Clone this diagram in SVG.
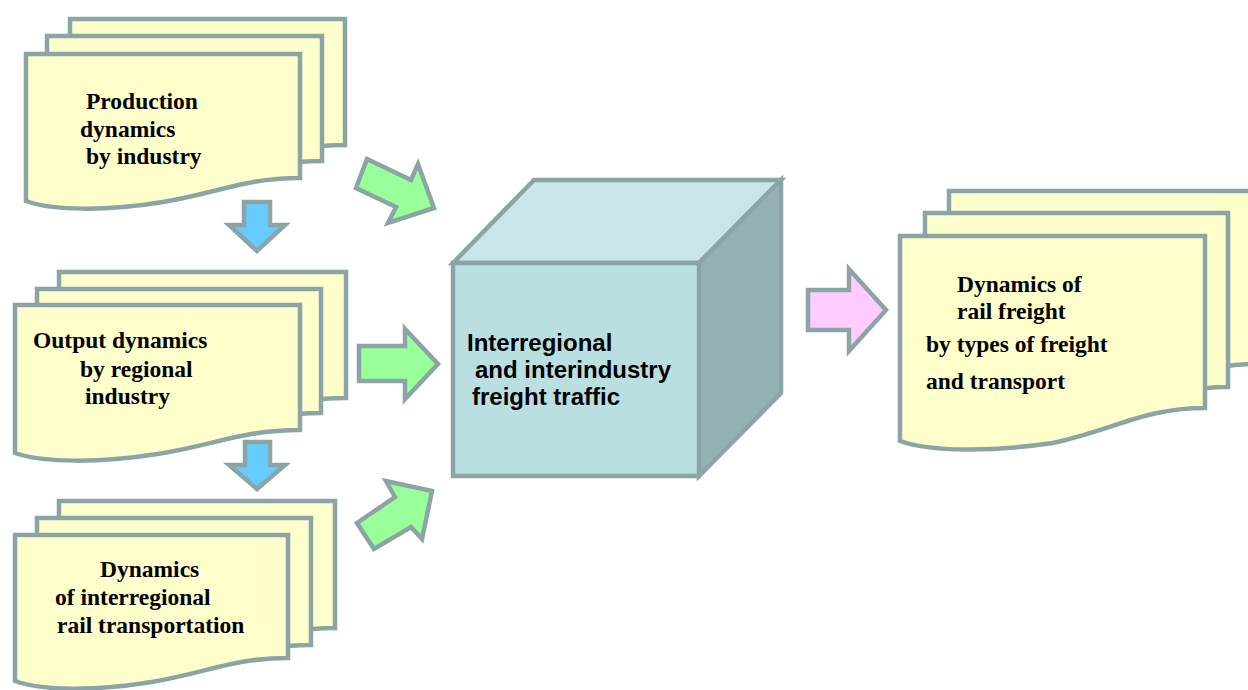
<svg xmlns="http://www.w3.org/2000/svg" width="1248" height="690" viewBox="0 0 1248 690">
<style>
.pg{fill:#ffffcc;stroke:#8ba5a6;stroke-width:4.5;stroke-linejoin:miter}
.t{font-family:"Liberation Serif","Times New Roman",serif;font-weight:bold;font-size:23.5px;fill:#000}
.ts{font-family:"Liberation Sans",Arial,sans-serif;font-weight:bold;font-size:24px;fill:#000}
.ar{stroke:#8ba5a6;stroke-width:4.5;stroke-linejoin:miter}
.blue{fill:#66ccff}
.green{fill:#99ff99}
.pink{fill:#ffccff}
.cube{stroke:#8ba5a6;stroke-width:4.5;stroke-linejoin:miter}
</style>
<rect width="1248" height="690" fill="#ffffff"/>
<g id="node-production">
<path class="pg" d="M70,19 H345 V145 C290,145 262.5,160 207.5,169 C152.5,178 97.5,178 70,168 Z"/>
<path class="pg" d="M47,36 H322 V161 C267,161 239.5,176 184.5,185 C129.5,194 74.5,194 47,184 Z"/>
<path class="pg" d="M26,54 H300 V178 C245,178 218,193 163,202 C108,211 53,211 26,201 Z"/>
<text class="t" x="86" y="109">Production</text>
<text class="t" x="80" y="137">dynamics</text>
<text class="t" x="86" y="164">by industry</text>
</g>
<g id="node-output">
<path class="pg" d="M59,272 H346 V398 C289,398 260,413 202.5,422 C145,431 88,431 59,421 Z"/>
<path class="pg" d="M37,289 H321 V413 C264,413 236,428 179,437 C122,446 65,446 37,436 Z"/>
<path class="pg" d="M15,305 H300 V430 C243,430 214.5,445 157.5,454 C100.5,463 43.5,463 15,453 Z"/>
<text class="t" x="33" y="348">Output dynamics</text>
<text class="t" x="80" y="377">by regional</text>
<text class="t" x="85" y="404">industry</text>
</g>
<g id="node-rail">
<path class="pg" d="M59,501 H335 V628 C280,628 252,643 197,652 C142,661 87,661 59,651 Z"/>
<path class="pg" d="M37,518 H311 V645 C256,645 229,660 174,669 C119,678 64,678 37,668 Z"/>
<path class="pg" d="M15,535 H288 V658 C233,658 206,673 151.5,682 C97,691 42,691 15,681 Z"/>
<text class="t" x="100" y="577">Dynamics</text>
<text class="t" x="55" y="605">of interregional</text>
<text class="t" x="57" y="633">rail transportation</text>
</g>
<g id="node-cube">
<path class="cube" fill="#c8e5e7" d="M453,263 L534,180 H781 L699,263 Z"/>
<path class="cube" fill="#94b2b3" d="M699,263 L781,180 V393 L699,476 Z"/>
<rect class="cube" fill="#badfe1" x="453" y="263" width="246" height="213"/>
<text class="ts" x="467" y="351">Interregional</text>
<text class="ts" x="475" y="378">and interindustry</text>
<text class="ts" x="472" y="405">freight traffic</text>
</g>
<g id="node-result">
<path class="pg" d="M949,191 H1256 V364 C1195,364 1164,386 1102.5,399 C1041,408 980,408 949,397 Z"/>
<path class="pg" d="M925,213 H1228 V387 C1167,387 1137,409 1076.5,422 C1016,431 955,431 925,420 Z"/>
<path class="pg" d="M900,236 H1205 V408 C1144,408 1113.5,430 1052.5,443 C991.5,452 930.5,452 900,441 Z"/>
<text class="t" x="957" y="292">Dynamics of</text>
<text class="t" x="957" y="319">rail freight</text>
<text class="t" x="926" y="352">by types of freight</text>
<text class="t" x="926" y="389">and transport</text>
</g>
<g id="connectors">
<path class="ar blue" d="M244,202 H270 V225 H285 L257,251 L229,225 H244 Z"/>
<path class="ar blue" d="M245,442 H270 V465 H285 L257,489 L229,465 H245 Z"/>
<path class="ar green" d="M367,159 L411,180 L418,164 L434,208 L388,223 L396,207 L356,188 Z"/>
<path class="ar green" d="M359,346 H405 V329 L438,364 L405,399 V381 H359 Z"/>
<path class="ar green" d="M357,523 L395,497 L386,481 L432,491 L422,539 L411,527 L374,549 Z"/>
<path class="ar pink" d="M808,290 H849 V269 L886,310 L849,351 V330 H808 Z"/>
</g>
</svg>
